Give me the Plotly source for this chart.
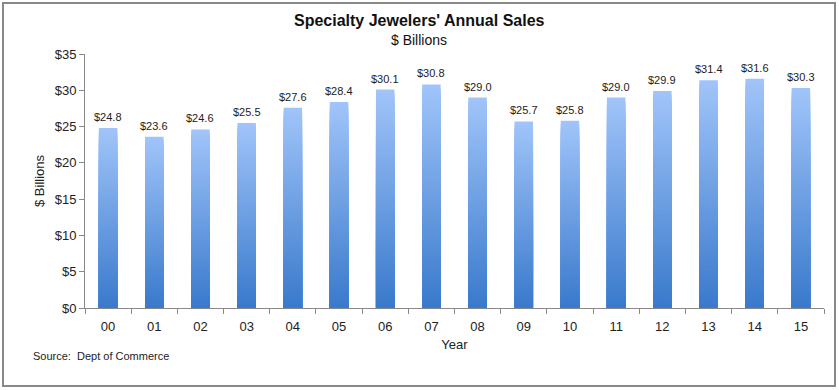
import plotly.graph_objects as go

years = ["00", "01", "02", "03", "04", "05", "06", "07", "08", "09", "10", "11", "12", "13", "14", "15"]
sales = [24.8, 23.6, 24.6, 25.5, 27.6, 28.4, 30.1, 30.8, 29.0, 25.7, 25.8, 29.0, 29.9, 31.4, 31.6, 30.3]
labels = ["$%.1f" % v for v in sales]

FONT = "Arial, Liberation Sans, sans-serif"
top_rgb = (160, 196, 249)
bot_rgb = (58, 122, 204)
N = 60

fig = go.Figure()
# gradient bars: overlaid bars from full height (light) to short (dark)
for k in range(N):
    f = k / (N - 1)
    c = tuple(int(round(top_rgb[i] + (bot_rgb[i] - top_rgb[i]) * f)) for i in range(3))
    frac = (N - k) / N
    fig.add_trace(go.Bar(
        x=years, y=[v * frac for v in sales],
        marker=dict(color="rgb(%d,%d,%d)" % c, line=dict(width=0)),
        showlegend=False, hoverinfo="skip",
    ))

def py(px):
    return (308 - px) / 254

def px_x(px):
    return (px - 85) / 739

value_labels = [
    dict(x=yr, y=v, text=t, xref="x", yref="y", showarrow=False,
         yanchor="bottom", yshift=3, font=dict(size=11, color="#222"))
    for yr, v, t in zip(years, sales, labels)
]

fig.update_layout(
    width=839, height=390,
    margin=dict(l=85, r=15, t=54, b=82),
    paper_bgcolor="white", plot_bgcolor="white",
    barmode="overlay", bargap=0.6,
    font=dict(family=FONT, size=12, color="#222"),
    xaxis=dict(
        showline=True, linecolor="#888", linewidth=1,
        ticks="outside", tickson="boundaries", ticklen=5, tickcolor="#888",
        tickfont=dict(size=13, color="#222"), ticklabelstandoff=6,
        title=dict(text="Year", font=dict(size=13, color="#222"), standoff=7),
        showgrid=False, zeroline=False,
    ),
    yaxis=dict(
        range=[0, 35], dtick=5, tickprefix="$",
        showline=True, linecolor="#888", linewidth=1,
        ticks="outside", ticklen=5, tickcolor="#888",
        tickfont=dict(size=13, color="#222"),
        title=dict(text="$ Billions", font=dict(size=13, color="#222"), standoff=7),
        showgrid=False, zeroline=False,
    ),
    annotations=value_labels + [
        dict(text="<b>Specialty Jewelers' Annual Sales</b>", xref="paper", yref="paper",
             x=px_x(419), y=py(20), showarrow=False, font=dict(size=16, color="#111"),
             xanchor="center", yanchor="middle"),
        dict(text="$ Billions", xref="paper", yref="paper",
             x=px_x(419), y=py(40), showarrow=False, font=dict(size=14, color="#111"),
             xanchor="center", yanchor="middle"),
        dict(text="Source:  Dept of Commerce", xref="paper", yref="paper",
             x=px_x(31), y=py(356), showarrow=False,
             font=dict(size=11, color="#222"), xanchor="left", yanchor="middle"),
    ],
    shapes=[
        dict(type="rect", xref="paper", yref="paper",
             x0=px_x(3), x1=px_x(835), y0=py(386), y1=py(3),
             line=dict(color="#888", width=2), fillcolor="rgba(0,0,0,0)", layer="below"),
    ],
)

fig.write_html("out.html", config={"displayModeBar": False},
               post_script="document.body.style.margin='0px';")
